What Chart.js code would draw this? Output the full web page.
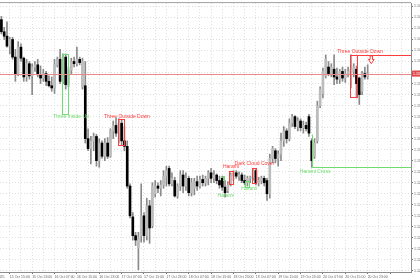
<!DOCTYPE html>
<html>
<head>
<meta charset="utf-8">
<script src="https://cdn.jsdelivr.net/npm/chart.js@4/dist/chart.umd.min.js"></script>
<style>
  html, body { margin: 0; padding: 0; background: #fff; overflow: hidden; }
  canvas { display: block; }
</style>
</head>
<body>
<canvas id="chart" width="420" height="280"></canvas>
<script>
// H1 candles, 15 Oct 12:00 onwards
const opens = [
  1.1428,1.1417,1.1413,1.1404,1.1410,1.1394,1.1379,1.1403,1.1393,1.1376,
  1.1388,1.1377,1.1385,1.1387,1.1378,1.1375,1.1379,1.1372,1.1368,1.1366,
  1.1387,1.1392,1.1372,1.1394,1.1369,1.1382,1.1390,1.1388,1.1392,1.1367,
  1.1368,1.1320,1.1311,1.1318,1.1322,1.1300,1.1316,1.1304,1.1316,1.1304,
  1.1327,1.1332,1.1325,1.1334,1.1318,1.1313,1.1277,1.1249,1.1232,1.1221,
  1.1232,1.1250,1.1232,1.1259,1.1241,1.1270,1.1277,1.1275,1.1278,1.1286,
  1.1293,1.1279,1.1282,1.1268,1.1277,1.1287,1.1277,1.1284,1.1271,1.1275,
  1.1281,1.1277,1.1283,1.1280,1.1284,1.1289,1.1284,1.1287,1.1282,1.1284,
  1.1276,1.1273,1.1279,1.1286,1.1289,1.1286,1.1287,1.1282,1.1280,1.1284,
  1.1285,1.1291,1.1280,1.1282,1.1284,1.1282,1.1270,1.1302,1.1309,1.1302,
  1.1306,1.1318,1.1327,1.1320,1.1334,1.1340,1.1331,1.1336,1.1330,1.1332,
  1.1340,1.1318,1.1304,1.1318,1.1350,1.1361,1.1377,1.1385,1.1379,1.1383,
  1.1376,1.1374,1.1381,1.1375,1.1379,1.1379,1.1381,1.1383,1.1375,1.1363,
  1.1379,1.1376
];
const highs = [
  1.1431,1.1421,1.1426,1.1412,1.1412,1.1401,1.1408,1.1406,1.1394,1.1392,
  1.1390,1.1388,1.1390,1.1392,1.1386,1.1383,1.1381,1.1377,1.1376,1.1392,
  1.1394,1.1401,1.1397,1.1397,1.1385,1.1393,1.1394,1.1403,1.1394,1.1393,
  1.1390,1.1329,1.1322,1.1325,1.1324,1.1320,1.1318,1.1320,1.1321,1.1329,
  1.1336,1.1339,1.1338,1.1337,1.1331,1.1318,1.1279,1.1253,1.1235,1.1235,
  1.1279,1.1253,1.1266,1.1264,1.1280,1.1282,1.1280,1.1282,1.1291,1.1295,
  1.1295,1.1289,1.1285,1.1279,1.1291,1.1291,1.1289,1.1286,1.1284,1.1284,
  1.1286,1.1286,1.1287,1.1286,1.1291,1.1293,1.1291,1.1288,1.1286,1.1286,
  1.1282,1.1281,1.1289,1.1291,1.1291,1.1290,1.1289,1.1287,1.1286,1.1286,
  1.1293,1.1292,1.1285,1.1286,1.1286,1.1284,1.1306,1.1313,1.1311,1.1309,
  1.1325,1.1331,1.1329,1.1338,1.1342,1.1341,1.1339,1.1338,1.1336,1.1335,
  1.1342,1.1320,1.1320,1.1354,1.1367,1.1384,1.1396,1.1390,1.1388,1.1396,
  1.1384,1.1383,1.1385,1.1383,1.1385,1.1396,1.1388,1.1386,1.1376,1.1381,
  1.1385,1.1387
];
const lows = [
  1.1415,1.1410,1.1403,1.1397,1.1392,1.1372,1.1377,1.1390,1.1372,1.1372,
  1.1374,1.1360,1.1381,1.1376,1.1370,1.1372,1.1368,1.1367,1.1363,1.1361,
  1.1385,1.1370,1.1370,1.1365,1.1367,1.1379,1.1385,1.1386,1.1387,1.1365,
  1.1316,1.1309,1.1297,1.1309,1.1295,1.1294,1.1302,1.1300,1.1302,1.1303,
  1.1320,1.1322,1.1316,1.1314,1.1309,1.1275,1.1248,1.1228,1.1223,1.1201,
  1.1226,1.1226,1.1228,1.1225,1.1239,1.1267,1.1271,1.1268,1.1275,1.1277,
  1.1277,1.1277,1.1267,1.1266,1.1273,1.1271,1.1273,1.1268,1.1268,1.1269,
  1.1273,1.1275,1.1277,1.1277,1.1278,1.1280,1.1280,1.1279,1.1275,1.1273,
  1.1267,1.1271,1.1277,1.1282,1.1284,1.1282,1.1280,1.1278,1.1277,1.1280,
  1.1282,1.1278,1.1277,1.1279,1.1277,1.1264,1.1266,1.1298,1.1298,1.1295,
  1.1300,1.1313,1.1316,1.1318,1.1331,1.1329,1.1327,1.1327,1.1325,1.1327,
  1.1322,1.1294,1.1302,1.1316,1.1348,1.1357,1.1375,1.1377,1.1376,1.1369,
  1.1370,1.1370,1.1372,1.1371,1.1376,1.1366,1.1376,1.1357,1.1351,1.1360,
  1.1374,1.1374
];
const closes = [
  1.1417,1.1413,1.1404,1.1410,1.1394,1.1379,1.1403,1.1393,1.1376,1.1388,
  1.1377,1.1385,1.1387,1.1378,1.1375,1.1379,1.1372,1.1368,1.1366,1.1387,
  1.1392,1.1372,1.1394,1.1369,1.1382,1.1390,1.1388,1.1392,1.1389,1.1390,
  1.1320,1.1311,1.1318,1.1322,1.1300,1.1316,1.1304,1.1316,1.1304,1.1327,
  1.1332,1.1325,1.1334,1.1318,1.1313,1.1277,1.1250,1.1232,1.1228,1.1230,
  1.1250,1.1232,1.1259,1.1239,1.1277,1.1277,1.1275,1.1278,1.1286,1.1291,
  1.1279,1.1284,1.1268,1.1277,1.1287,1.1277,1.1284,1.1271,1.1280,1.1281,
  1.1277,1.1283,1.1280,1.1284,1.1289,1.1284,1.1287,1.1282,1.1278,1.1276,
  1.1271,1.1278,1.1287,1.1289,1.1286,1.1287,1.1282,1.1280,1.1284,1.1285,
  1.1291,1.1280,1.1282,1.1284,1.1280,1.1270,1.1302,1.1311,1.1302,1.1306,
  1.1318,1.1327,1.1320,1.1334,1.1340,1.1331,1.1336,1.1330,1.1332,1.1329,
  1.1325,1.1300,1.1316,1.1350,1.1365,1.1381,1.1392,1.1379,1.1385,1.1376,
  1.1374,1.1381,1.1375,1.1379,1.1381,1.1383,1.1385,1.1370,1.1360,1.1379,
  1.1376,1.1379
];

// time axis: one slot per hour, a label every 8 slots starting at slot 3
const firstLabel = '15 Oct 2025';
const tickLabels = [
  '15 Oct 15:00','15 Oct 23:00','16 Oct 07:00','16 Oct 15:00','16 Oct 23:00',
  '17 Oct 07:00','17 Oct 15:00','17 Oct 23:00','18 Oct 07:00','18 Oct 15:00',
  '18 Oct 23:00','19 Oct 07:00','19 Oct 15:00','19 Oct 23:00','20 Oct 07:00',
  '20 Oct 15:00','20 Oct 23:00'
];
const slotCount = 147;

// pattern marks: [text, colour, from slot, to slot, top price, bottom price]
const patternBoxes = [
  ['Three Inside Up', 'green', 21.7, 23.8, 1.1397, 1.1343],
  ['Three Outside Down', 'red', 41.7, 43.8, 1.1338, 1.1314],
  ['Harami', 'green', 79.3, 79.8, 1.1286, 1.1282],
  ['Harami', 'red', 81.4, 82.8, 1.1291, 1.1279],
  ['Harami', 'green', 87.1, 88.5, 1.1282, 1.1277],
  ['Dark Cloud Cover', 'red', 89.6, 91.1, 1.1293, 1.1279],
  ['Three Outside Down', 'red', 124.7, 127.2, 1.1396, 1.1358]
];
// pattern captions: [text, colour, centre slot, price]
const patternTexts = [
  ['Three Inside Up', 'green', 24.9, 1.1340],
  ['Three Outside Down', 'red', 44.9, 1.1340],
  ['Harami', 'green', 80.2, 1.1268],
  ['Harami', 'red', 82.1, 1.1295],
  ['Dark Cloud Cover', 'red', 90.5, 1.1297],
  ['Harami', 'green', 88.7, 1.1275],
  ['Harami Cross', 'green', 112.2, 1.1290],
  ['Three Outside Down', 'red', 128.3, 1.1399]
];
// level lines running to the right edge: [colour, from slot, price, top of stem]
const levelLines = [
  ['green', 111.1, 1.1294, 1.1324],
  ['red', 124.7, 1.1396, 1.1396]
];
const arrowMark = [132.3, 1.1395, 1.1388];

const colours = { green: '#6fdc6f', red: '#ff3b3b' };
const axisFont = '"Liberation Sans", Arial, sans-serif';

const slotLabels = [];
for (let i = 0; i < slotCount; i++) {
  const k = (i - 3) / 8;
  slotLabels.push(Number.isInteger(k) && k >= 0 && k < tickLabels.length ? tickLabels[k] : '');
}

const wickData = highs.map((h, i) => [lows[i], h]);
const bodyData = opens.map((o, i) => [o, closes[i]]);

const marksPlugin = {
  id: 'marks',
  afterDatasetsDraw(chart) {
    const { ctx, chartArea, scales } = chart;
    const x = scales.x, y = scales.y;
    ctx.save();

    // bid line
    const bid = closes[closes.length - 1];
    const by = Math.round(y.getPixelForValue(bid)) + 0.5;
    ctx.strokeStyle = '#ea8a8a';
    ctx.lineWidth = 1;
    ctx.beginPath();
    ctx.moveTo(chartArea.left, by);
    ctx.lineTo(chartArea.right, by);
    ctx.stroke();

    patternBoxes.forEach(b => {
      const x0 = x.getPixelForValue(b[2]), x1 = x.getPixelForValue(b[3]);
      const y0 = y.getPixelForValue(b[4]), y1 = y.getPixelForValue(b[5]);
      ctx.strokeStyle = colours[b[1]];
      ctx.strokeRect(Math.round(x0) + 0.5, Math.round(y0) + 0.5, Math.round(x1 - x0), Math.round(y1 - y0));
    });

    levelLines.forEach(l => {
      const lx = Math.round(x.getPixelForValue(l[1])) + 0.5;
      const ly = Math.round(y.getPixelForValue(l[2])) + 0.5;
      const ty = Math.round(y.getPixelForValue(l[3])) + 0.5;
      ctx.strokeStyle = colours[l[0]];
      ctx.beginPath();
      ctx.moveTo(lx, ty);
      ctx.lineTo(lx, ly);
      ctx.lineTo(chartArea.right, ly);
      ctx.stroke();
    });

    // down arrow outline
    const ax = x.getPixelForValue(arrowMark[0]);
    const a0 = y.getPixelForValue(arrowMark[1]), a1 = y.getPixelForValue(arrowMark[2]);
    const h = a1 - a0;
    ctx.strokeStyle = colours.red;
    ctx.beginPath();
    ctx.moveTo(ax - 1.2, a0);
    ctx.lineTo(ax + 1.2, a0);
    ctx.lineTo(ax + 1.2, a0 + h * 0.45);
    ctx.lineTo(ax + 2.8, a0 + h * 0.45);
    ctx.lineTo(ax, a1);
    ctx.lineTo(ax - 2.8, a0 + h * 0.45);
    ctx.lineTo(ax - 1.2, a0 + h * 0.45);
    ctx.closePath();
    ctx.stroke();

    ctx.font = '5px ' + axisFont;
    ctx.textAlign = 'center';
    ctx.textBaseline = 'middle';
    patternTexts.forEach(t => {
      ctx.fillStyle = colours[t[1]];
      ctx.fillText(t[0], x.getPixelForValue(t[2]), y.getPixelForValue(t[3]));
    });

    // top frame line
    ctx.strokeStyle = '#a0a0a0';
    ctx.beginPath();
    ctx.moveTo(0, chartArea.top - 0.5);
    ctx.lineTo(chartArea.right, chartArea.top - 0.5);
    ctx.stroke();
    ctx.restore();
  },
  afterDraw(chart) {
    const { ctx, chartArea, scales } = chart;
    const bid = closes[closes.length - 1];
    const by = scales.y.getPixelForValue(bid);
    ctx.save();
    ctx.fillStyle = '#e24a4a';
    ctx.fillRect(chartArea.right + 1, by - 3, 20, 6);
    ctx.fillStyle = '#fff';
    ctx.font = '3.5px ' + axisFont;
    ctx.textBaseline = 'middle';
    ctx.fillText(bid.toFixed(4), chartArea.right + 2, by);

    // date label of the left edge, mostly scrolled off
    ctx.fillStyle = '#666';
    ctx.textAlign = 'right';
    ctx.textBaseline = 'top';
    ctx.fillText(firstLabel, 4.5, scales.x.top + 3);
    ctx.restore();
  }
};

new Chart(document.getElementById('chart'), {
  type: 'bar',
  data: {
    labels: slotLabels,
    datasets: [
      {
        label: 'wick',
        data: wickData,
        backgroundColor: '#8a8a8a',
        barThickness: 1,
        grouped: false,
        order: 2
      },
      {
        label: 'body',
        data: bodyData,
        backgroundColor: ctx => closes[ctx.dataIndex] >= opens[ctx.dataIndex] ? '#bcbcbc' : '#000000',
        barThickness: 2,
        minBarLength: 1,
        grouped: false,
        order: 1
      }
    ]
  },
  options: {
    responsive: false,
    animation: false,
    events: [],
    layout: { padding: { top: 1, left: 0, right: 0, bottom: 0 } },
    plugins: { legend: { display: false }, tooltip: { enabled: false } },
    scales: {
      x: {
        grid: {
          offset: false,
          color: c => c.index % 4 === 3 ? '#dedede' : 'rgba(0,0,0,0)',
          tickColor: c => c.index % 8 === 3 ? '#777' : 'rgba(0,0,0,0)',
          tickLength: 2
        },
        border: { display: true, color: '#8c8c8c', dash: [1, 2] },
        ticks: {
          autoSkip: false,
          maxRotation: 0,
          align: 'start',
          padding: 1,
          color: '#666',
          font: { size: 3.5, family: axisFont },
          callback: (v, i) => slotLabels[i]
        },
        afterFit: scale => { scale.height = 8; }
      },
      y: {
        position: 'right',
        min: 1.1199,
        max: 1.1443,
        grid: { color: '#dedede', tickColor: '#777', tickLength: 2 },
        border: { display: true, color: '#8c8c8c', dash: [1, 2] },
        ticks: {
          stepSize: 0.001,
          includeBounds: false,
          padding: 1,
          color: '#666',
          font: { size: 3.5, family: axisFont },
          callback: v => v.toFixed(4)
        },
        afterFit: scale => { scale.width = 9; }
      }
    }
  },
  plugins: [marksPlugin]
});
</script>
</body>
</html>
